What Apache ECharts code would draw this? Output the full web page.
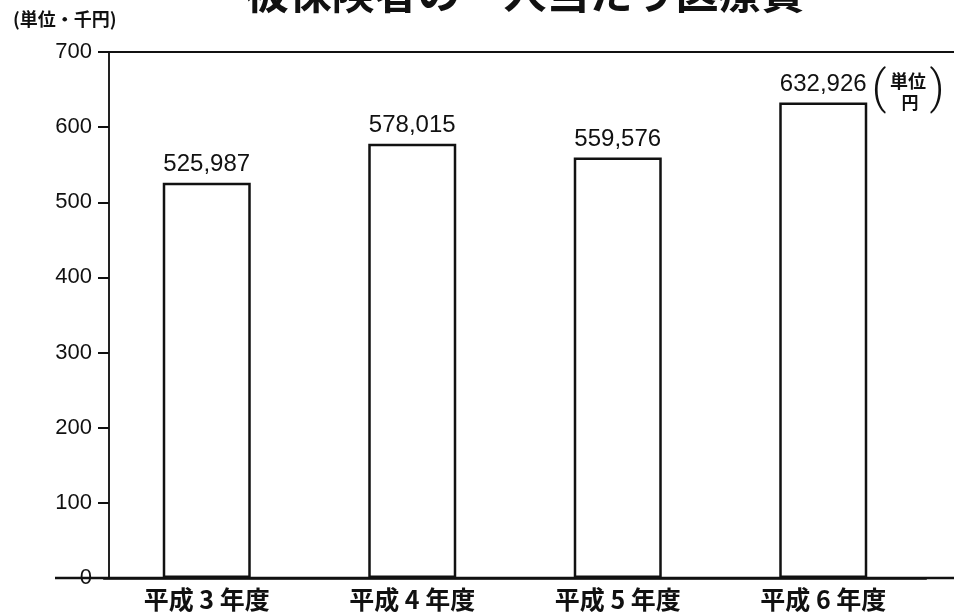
<!DOCTYPE html>
<html>
<head>
<meta charset="utf-8">
<script src="https://cdn.jsdelivr.net/npm/echarts@6/dist/echarts.min.js"></script>
<style>
html,body{margin:0;padding:0;background:#fff;}
#c{width:954px;height:616px;}
</style>
</head>
<body>
<div id="c"></div>
<script>
const titleText = '被保険者の一人当たり医療費';
const unitLeft = '(単位・千円)';
const categories = ['平成 3 年度', '平成 4 年度', '平成 5 年度', '平成 6 年度'];
const valuesYen = [525987, 578015, 559576, 632926];
const yMin = 0, yMax = 700, yInterval = 100;

const cjk = '"Noto Sans CJK JP", "Noto Sans CJK SC", sans-serif';
const latin = '"Liberation Sans", Arial, sans-serif';

const chart = echarts.init(document.getElementById('c'), null, {renderer: 'canvas'});
chart.setOption({
  animation: false,
  backgroundColor: '#fff',
  grid: {left: 104, right: 28, top: 52, bottom: 38},
  xAxis: {
    type: 'category',
    data: categories,
    axisLine: {show: true, lineStyle: {color: '#111', width: 2.5}},
    axisTick: {show: false},
    axisLabel: {color: '#111', fontFamily: cjk, fontSize: 25, fontWeight: 'bold', margin: 9}
  },
  yAxis: {
    type: 'value',
    min: yMin, max: yMax, interval: yInterval,
    offset: -5,
    axisLine: {show: true, lineStyle: {color: '#222', width: 2}},
    axisTick: {show: true, inside: false, length: 11, lineStyle: {color: '#111', width: 2}},
    axisLabel: {color: '#111', fontFamily: latin, fontSize: 22, margin: 17},
    splitLine: {show: false}
  },
  series: [{
    type: 'bar',
    data: valuesYen.map(v => v / 1000),
    barWidth: 88,
    itemStyle: {color: '#fff', borderColor: '#111', borderWidth: 2.5},
    label: {
      show: true, position: 'top', distance: 6,
      color: '#111', fontFamily: latin, fontSize: 24,
      formatter: p => valuesYen[p.dataIndex].toLocaleString('en-US')
    }
  }]
});

const y700 = chart.convertToPixel({yAxisIndex: 0}, yMax);
const y0 = chart.convertToPixel({yAxisIndex: 0}, yMin);
const W = 954;
chart.setOption({
  graphic: [
    {type: 'line', shape: {x1: 98, y1: y700, x2: W, y2: y700}, style: {stroke: '#111', lineWidth: 2}, z: 10},
    {type: 'line', shape: {x1: 55, y1: y0, x2: W, y2: y0}, style: {stroke: '#111', lineWidth: 2.5}, z: 10},
    {type: 'text', x: 525, y: 14, style: {text: titleText, font: 'bold 43px ' + cjk, fill: '#111', textAlign: 'center', textVerticalAlign: 'bottom'}},
    {type: 'text', x: 13, y: 19, style: {text: unitLeft, font: 'bold 18px ' + cjk, fill: '#111', textAlign: 'left', textVerticalAlign: 'middle'}},
    {type: 'text', x: 879, y: 91, style: {text: '(', font: '300 46px Roboto, "Liberation Sans", sans-serif', fill: '#111', textAlign: 'center', textVerticalAlign: 'middle'}},
    {type: 'text', x: 908, y: 81, style: {text: '単位', font: 'bold 18px ' + cjk, fill: '#111', textAlign: 'center', textVerticalAlign: 'middle'}},
    {type: 'text', x: 910, y: 103, style: {text: '円', font: 'bold 17px ' + cjk, fill: '#111', textAlign: 'center', textVerticalAlign: 'middle'}},
    {type: 'text', x: 937, y: 91, style: {text: ')', font: '300 46px Roboto, "Liberation Sans", sans-serif', fill: '#111', textAlign: 'center', textVerticalAlign: 'middle'}}
  ]
});
</script>
</body>
</html>
